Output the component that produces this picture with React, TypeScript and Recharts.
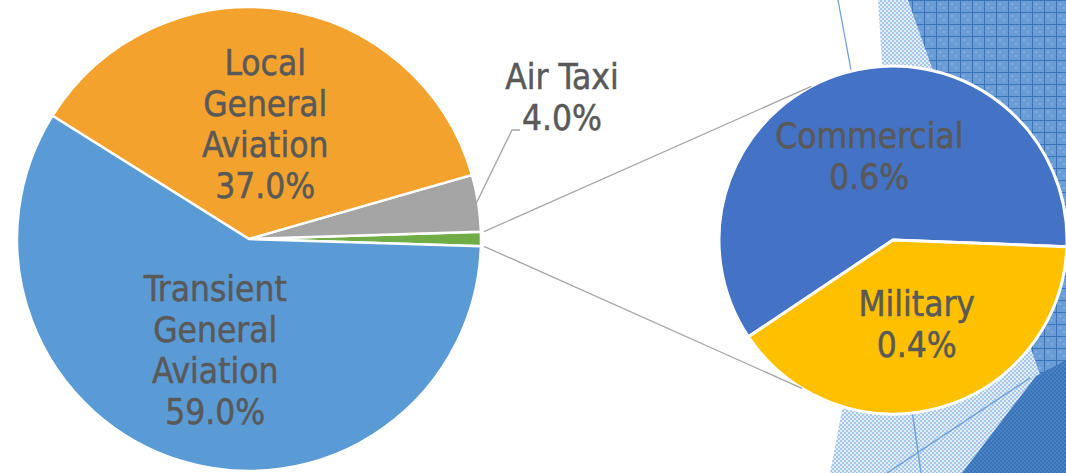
import React from 'react';
import { PieChart, Pie, Cell } from 'recharts';

// ---------- data ----------
const mainCategories = ['Other', 'Air Taxi', 'Local General Aviation', 'Transient General Aviation'];
const mainValues = [1.0, 4.0, 37.0, 59.0];
const mainLabelLines: string[][] = [[], ['Air Taxi'], ['Local', 'General', 'Aviation'], ['Transient', 'General', 'Aviation']];
const mainColors = ['#70AD47', '#A5A5A5', '#F3A32D', '#5B9BD5'];

const subCategories = ['Commercial', 'Military'];
const subValues = [0.6, 0.4];
const subLabelLines: string[][] = [['Commercial'], ['Military']];
const subColors = ['#4472C4', '#FFC000'];

const mainData = mainCategories.map((name, i) => ({ name, value: mainValues[i] }));
const subData = subCategories.map((name, i) => ({ name, value: subValues[i] }));

// ---------- layout ----------
const W = 1066;
const H = 473;
const MAIN = { cx: 249, cy: 239, r: 232 };
const SUB = { cx: 893, cy: 240, r: 174 };
const mainTotal = mainValues.reduce((a, b) => a + b, 0);
const otherHalfAngle = (mainValues[0] / mainTotal) * 180;
const MAIN_START = -otherHalfAngle;
const SUB_START = -2.2;
const CONNECTOR_TARGET_ANGLES = [118, -121.5];
const AIR_ELBOW = { dx: 263, dy: -109 };

const FONT = '"DejaVu Sans Condensed", "DejaVu Sans", sans-serif';
const FS = 35;
const LH = 41;
const CAP = 25;
const TEXT_COLOR = '#595959';
const LEADER_COLOR = '#A6A6A6';
const RAD = Math.PI / 180;

const polar = (cx: number, cy: number, r: number, a: number) => ({
  x: cx + r * Math.cos(a * RAD),
  y: cy - r * Math.sin(a * RAD),
});

function TextBlock({ x, yCenter, lines }: { x: number; yCenter: number; lines: string[] }) {
  const b1 = yCenter - ((lines.length - 1) * LH) / 2 + CAP / 2;
  return (
    <text
      x={x}
      y={b1}
      textAnchor="middle"
      fill={TEXT_COLOR}
      stroke={TEXT_COLOR}
      strokeWidth={0.5}
      fontSize={FS}
      fontFamily={FONT}
    >
      {lines.map((l, i) => (
        <tspan key={i} x={x} y={b1 + i * LH}>
          {l}
        </tspan>
      ))}
    </text>
  );
}

const pct = (v: number) => `${v.toFixed(1)}%`;

function renderMainLabel(props: any) {
  const { cx, cy, midAngle, outerRadius, index, value, percent } = props;
  if (index === 0) {
    const half = (percent * 360) / 2;
    const a1 = polar(cx, cy, outerRadius + 3, midAngle + half);
    const a2 = polar(cx, cy, outerRadius + 3, midAngle - half);
    const t1 = polar(SUB.cx, SUB.cy, SUB.r, CONNECTOR_TARGET_ANGLES[0]);
    const t2 = polar(SUB.cx, SUB.cy, SUB.r, CONNECTOR_TARGET_ANGLES[1]);
    return (
      <g>
        <line x1={a1.x} y1={a1.y} x2={t1.x} y2={t1.y} stroke={LEADER_COLOR} strokeWidth={1.3} />
        <line x1={a2.x} y1={a2.y} x2={t2.x} y2={t2.y} stroke={LEADER_COLOR} strokeWidth={1.3} />
      </g>
    );
  }
  const lines = [...mainLabelLines[index], pct(value)];
  if (index === 1) {
    const s = polar(cx, cy, outerRadius - 2, midAngle);
    const ex = cx + AIR_ELBOW.dx;
    const ey = cy + AIR_ELBOW.dy;
    return (
      <g>
        <polyline
          points={`${s.x},${s.y} ${ex},${ey} ${ex + 8},${ey}`}
          fill="none"
          stroke={LEADER_COLOR}
          strokeWidth={1.3}
        />
        <TextBlock x={ex + 50} yCenter={ey - LH / 2 - CAP / 2} lines={lines} />
      </g>
    );
  }
  const p = polar(cx, cy, outerRadius * 0.5, midAngle);
  return <TextBlock x={p.x} yCenter={p.y} lines={lines} />;
}

function renderSubLabel(props: any) {
  const { cx, cy, midAngle, outerRadius, index, value } = props;
  const p = polar(cx, cy, outerRadius * 0.5, midAngle);
  return <TextBlock x={p.x} yCenter={p.y} lines={[...subLabelLines[index], pct(value)]} />;
}

function Background() {
  return (
    <svg width={W} height={H} style={{ position: 'absolute', left: 0, top: 0 }}>
      <defs>
        <pattern id="grid" width="12" height="12" patternUnits="userSpaceOnUse">
          <rect width="12" height="12" fill="#6a9dd5" />
          <rect width="2" height="2" x="3" y="3" fill="#82aedd" />
          <rect width="2" height="2" x="7" y="7" fill="#82aedd" />
          <path d="M0 0.5H12 M0.5 0V12" stroke="#3b73ba" strokeWidth="1" />
        </pattern>
        <pattern id="check" width="4" height="4" patternUnits="userSpaceOnUse">
          <rect width="4" height="4" fill="#e3edf8" />
          <rect width="2" height="2" fill="#a8c6e8" />
          <rect x="2" y="2" width="2" height="2" fill="#a8c6e8" />
        </pattern>
        <pattern id="dark" width="4" height="4" patternUnits="userSpaceOnUse">
          <rect width="4" height="4" fill="#4a82c4" />
          <rect width="2" height="2" fill="#3a74b8" />
          <rect x="2" y="2" width="2" height="2" fill="#3a74b8" />
        </pattern>
      </defs>
      <rect width={W} height={H} fill="#ffffff" />
      <polygon points="878,0 1066,0 1066,473 830,473 842,410 893,240" fill="url(#check)" />
      <polygon points="908,0 1066,0 1066,448" fill="url(#grid)" />
      <polygon points="962,473 1036,376 1066,360 1066,473" fill="url(#dark)" />
      <line x1={838} y1={0} x2={851} y2={70} stroke="#6fa3dc" strokeWidth={1.3} />
      <line x1={887} y1={473} x2={1030} y2={378} stroke="#6fa3dc" strokeWidth={1.5} />
      <line x1={912} y1={410} x2={921} y2={473} stroke="#6fa3dc" strokeWidth={1.5} />
    </svg>
  );
}

export default function App() {
  return (
    <div style={{ position: 'absolute', left: 0, top: 0, width: W, height: H, overflow: 'hidden' }}>
      <Background />
      <div style={{ position: 'absolute', left: 0, top: 0 }}>
        <PieChart width={W} height={H} margin={{ top: 0, right: 0, bottom: 0, left: 0 }}>
          <Pie
            data={mainData}
            dataKey="value"
            nameKey="name"
            cx={MAIN.cx}
            cy={MAIN.cy}
            outerRadius={MAIN.r}
            startAngle={MAIN_START}
            endAngle={MAIN_START + 360}
            stroke="#ffffff"
            strokeWidth={2.5}
            label={renderMainLabel}
            labelLine={false}
            isAnimationActive={false}
          >
            {mainData.map((d, i) => (
              <Cell key={d.name} fill={mainColors[i]} />
            ))}
          </Pie>
          <Pie
            data={subData}
            dataKey="value"
            nameKey="name"
            cx={SUB.cx}
            cy={SUB.cy}
            outerRadius={SUB.r}
            startAngle={SUB_START}
            endAngle={SUB_START + 360}
            stroke="#ffffff"
            strokeWidth={3}
            label={renderSubLabel}
            labelLine={false}
            isAnimationActive={false}
          >
            {subData.map((d, i) => (
              <Cell key={d.name} fill={subColors[i]} />
            ))}
          </Pie>
        </PieChart>
      </div>
    </div>
  );
}
